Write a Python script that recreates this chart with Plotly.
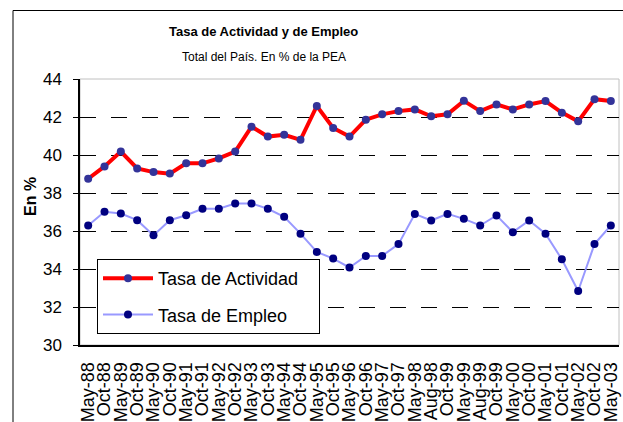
import plotly.graph_objects as go

categories = ["May-88", "Oct-88", "May-89", "Oct-89", "May-90", "Oct-90", "May-91", "Oct-91",
              "May-92", "Oct-92", "May-93", "Oct-93", "May-94", "Oct-94", "May-95", "Oct-95",
              "May-96", "Oct-96", "May-97", "Oct-97", "May-98", "Aug-98", "Oct-99", "May-99",
              "Aug-99", "Oct-99", "May-00", "Oct-00", "May-01", "Oct-01", "May-02", "Oct-02",
              "May-03"]

tasa_actividad = [38.75, 39.40, 40.18, 39.29, 39.10, 39.02, 39.56, 39.56, 39.82, 40.18,
                  41.49, 40.97, 41.06, 40.80, 42.58, 41.42, 40.97, 41.86, 42.14, 42.31,
                  42.40, 42.04, 42.14, 42.85, 42.31, 42.66, 42.40, 42.66, 42.84, 42.23,
                  41.77, 42.94, 42.84]

tasa_empleo = [36.29, 37.01, 36.92, 36.57, 35.77, 36.57, 36.83, 37.17, 37.17, 37.45,
               37.45, 37.17, 36.75, 35.86, 34.90, 34.55, 34.08, 34.69, 34.69, 35.31,
               36.90, 36.55, 36.90, 36.64, 36.29, 36.82, 35.94, 36.55, 35.86, 34.51,
               32.84, 35.31, 36.29]

y_ticks = [30, 32, 34, 36, 38, 40, 42, 44]

positions = list(range(len(categories)))
FONT = "Arial, Liberation Sans, sans-serif"

fig = go.Figure()
fig.add_trace(go.Scatter(
    x=positions, y=tasa_actividad, name="Tasa de Actividad&nbsp;&nbsp;&nbsp;",
    mode="lines+markers",
    line=dict(color="#FF0000", width=4),
    marker=dict(color="#333399", size=8),
    legendgroup="a",
))
fig.add_trace(go.Scatter(
    x=positions, y=tasa_empleo, name="Tasa de Empleo", mode="lines+markers",
    line=dict(color="#9999FF", width=2),
    marker=dict(color="#000080", size=8),
    legendgroup="b",
))

L, R, T, B = 80, 4, 79, 77
W, H = 623, 422
pw, ph = W - L - R, H - T - B

def px(xp):
    return (xp - L) / pw

def py(yp):
    return (H - B - yp) / ph

fig.update_layout(
    width=W, height=H,
    margin=dict(l=L, r=R, t=T, b=B, pad=0),
    paper_bgcolor="white", plot_bgcolor="white",
    font=dict(family=FONT, color="black"),
    showlegend=True,
    legend=dict(
        x=px(97), y=py(259), xanchor="left", yanchor="top",
        bgcolor="white", bordercolor="black", borderwidth=1,
        font=dict(size=18, family=FONT, color="black"),
        tracegroupgap=10, traceorder="grouped",
        itemwidth=50,
    ),
    xaxis=dict(
        range=[-0.5, len(categories) - 0.5],
        tickmode="array", tickvals=positions, ticktext=categories,
        tickangle=-90, tickfont=dict(size=18, family=FONT, color="black"),
        showgrid=False, zeroline=False,
        showline=True, linecolor="black", linewidth=2,
        ticks="", ticklabelstandoff=8, automargin=False,
    ),
    yaxis=dict(
        range=[30, 44], tickmode="array", tickvals=y_ticks,
        tickfont=dict(size=17, family=FONT, color="black"),
        showgrid=True, gridcolor="black", gridwidth=1, griddash="16px,15px",
        zeroline=False, showline=True, linecolor="black", linewidth=1.5,
        ticks="outside", ticklen=5, tickcolor="black", ticklabelstandoff=8,
        automargin=False,
    ),
    shapes=[
        dict(type="rect", xref="paper", yref="paper", x0=0, x1=1, y0=0, y1=1,
             line=dict(color="#C0C0C0", width=1), layer="below"),
        dict(type="rect", xref="paper", yref="paper",
             x0=px(13), x1=px(640), y0=py(440), y1=py(10.5),
             line=dict(color="black", width=1)),
    ],
    annotations=[
        dict(text="<b>Tasa de Actividad y de Empleo</b>", xref="paper", yref="paper",
             x=px(263), y=py(32), xanchor="center", yanchor="middle", showarrow=False,
             font=dict(size=13, family=FONT, color="black")),
        dict(text="Total del País. En % de la PEA", xref="paper", yref="paper",
             x=px(264), y=py(57), xanchor="center", yanchor="middle", showarrow=False,
             font=dict(size=12, family=FONT, color="black")),
        dict(text="<b>En %</b>", xref="paper", yref="paper",
             x=px(30), y=py(197), xanchor="center", yanchor="middle", showarrow=False,
             textangle=-90, font=dict(size=16, family=FONT, color="black")),
    ],
)

fig.write_html(
    "out.html",
    config={"displayModeBar": False},
    post_script="document.body.style.margin='0';document.body.style.padding='0';"
                "document.body.style.overflow='hidden';",
)
